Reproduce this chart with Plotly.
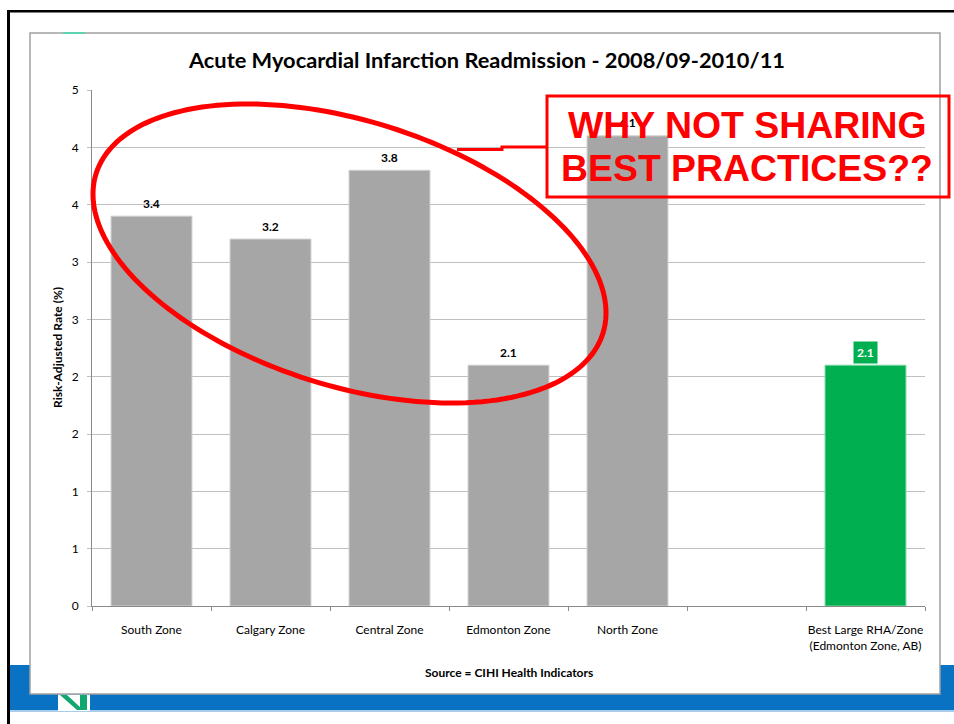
import numpy as np
import plotly.graph_objects as go

# ---------------- data ----------------
categories = ["South Zone", "Calgary Zone", "Central Zone", "Edmonton Zone",
              "North Zone", "", "Best Large RHA/Zone<br>(Edmonton Zone, AB)"]
rates = [3.4, 3.2, 3.8, 2.1, 4.1, None, 2.1]
is_best = [False, False, False, False, False, False, True]
y_tickvals = [0, 0.5, 1, 1.5, 2, 2.5, 3, 3.5, 4, 4.5]
y_ticktext = ["0", "1", "1", "2", "2", "3", "3", "4", "4", "5"]

title_text = "Acute Myocardial Infarction Readmission - 2008/09-2010/11"
ytitle_text = "Risk-Adjusted Rate (%)"
source_text = "Source = CIHI Health Indicators"
callout_lines = ["WHY NOT SHARING", "BEST PRACTICES??"]

# ---------------- layout geometry ----------------
W, H = 954, 724
ML, MR, MT, MB = 92, 29, 90, 118
PW, PH = W - ML - MR, H - MT - MB


def px(x):
    return (x - ML) / PW


def py(y):
    return (H - MB - y) / PH


GRAY = "#A6A6A6"
GREEN = "#00B050"
RED = "#FF0000"
FONT = "Lato"

x_pos = list(range(len(categories)))
bar_colors = [GREEN if b else GRAY for b in is_best]
line_colors = ["#7FD8A5" if b else "#D0D0D0" for b in is_best]

fig = go.Figure()
fig.add_trace(go.Bar(
    x=x_pos, y=rates,
    marker=dict(color=bar_colors, line=dict(color=line_colors, width=1)),
    hoverinfo="skip",
))

shapes = []


def rect(x0, y0, x1, y1, fill=None, line=None, lw=0, layer="below"):
    d = dict(type="rect", xref="paper", yref="paper",
             x0=px(x0), x1=px(x1), y0=py(y1), y1=py(y0), layer=layer,
             line=dict(width=lw, color=line if line else "rgba(0,0,0,0)"))
    if fill:
        d["fillcolor"] = fill
    shapes.append(d)


def path(points, color, lw, closed=False, fill=None, layer="above"):
    s = "M " + " L ".join(f"{px(a):.5f},{py(b):.5f}" for a, b in points)
    if closed:
        s += " Z"
    d = dict(type="path", xref="paper", yref="paper", path=s, layer=layer,
             line=dict(color=color, width=lw))
    if fill:
        d["fillcolor"] = fill
    shapes.append(d)


# slide decorations
rect(10, 665, 954, 710, fill="#0A72C2")
rect(10, 710, 954, 712, fill="#A9CCEB")
rect(7, 10, 954, 12.5, fill="#000000")
rect(7, 10, 10, 724, fill="#000000")
# chart area box
rect(30, 33, 940, 694, fill="#FFFFFF", line="#A0A0A0", lw=1.5)
# logo bits
rect(58, 694.8, 90, 711, fill="#FFFFFF")
path([(60, 695), (67, 695), (80, 707), (80, 695), (87, 695), (87, 710), (77, 710)],
     "rgba(0,0,0,0)", 0, closed=True, fill="#10A870", layer="below")
shapes.append(dict(type="line", xref="paper", yref="paper", layer="above",
                   x0=px(63), x1=px(85), y0=py(33), y1=py(33),
                   line=dict(color="#5FD3B0", width=2)))

# red ellipse
cx, cy, a, b, th = 349.5, 253.5, 265.7, 132.5, np.deg2rad(17.5)
t = np.linspace(0, 2 * np.pi, 181)
ex = cx + a * np.cos(th) * np.cos(t) - b * np.sin(th) * np.sin(t)
ey = cy + a * np.sin(th) * np.cos(t) + b * np.cos(th) * np.sin(t)
path(list(zip(ex, ey)), RED, 5, closed=True)
# connector
path([(457, 149.5), (502, 149.5), (502, 147), (547, 147)], RED, 3)
# callout box
rect(547, 96, 949, 197, line=RED, lw=3, layer="above")

annotations = []
# value labels
for xi, v, best in zip(x_pos, rates, is_best):
    if v is None:
        continue
    ann = dict(x=xi, y=v, xref="x", yref="y", text=f"<b>{v:.1f}</b>",
               showarrow=False, yshift=13, yanchor="middle",
               font=dict(family=FONT, size=12,
                         color="#FFFFFF" if best else "#000000"))
    if best:
        ann.update(bgcolor=GREEN, borderpad=3)
    annotations.append(ann)

# title
annotations.append(dict(x=px(486), y=py(60), xref="paper", yref="paper",
                        text=f"<b>{title_text}</b>", showarrow=False,
                        xanchor="center", yanchor="middle",
                        font=dict(family=FONT, size=21.8, color="#000000")))
# y title
annotations.append(dict(x=px(57), y=py(348), xref="paper", yref="paper",
                        text=f"<b>{ytitle_text}</b>", showarrow=False,
                        textangle=-90, xanchor="center", yanchor="middle",
                        font=dict(family=FONT, size=12, color="#000000")))
# source
annotations.append(dict(x=px(509), y=py(672), xref="paper", yref="paper",
                        text=f"<b>{source_text}</b>", showarrow=False,
                        xanchor="center", yanchor="middle",
                        font=dict(family=FONT, size=12, color="#000000")))
# callout text
for line_text, yc in zip(callout_lines, [125, 168]):
    annotations.append(dict(x=px(747), y=py(yc), xref="paper", yref="paper",
                            text=f"<b>{line_text}</b>", showarrow=False,
                            xanchor="center", yanchor="middle",
                            font=dict(family="Liberation Sans", size=37.4, color=RED)))

fig.update_layout(
    width=W, height=H, autosize=False,
    margin=dict(l=ML, r=MR, t=MT, b=MB, pad=0),
    paper_bgcolor="#FFFFFF", plot_bgcolor="#FFFFFF",
    showlegend=False, bargap=0.32,
    font=dict(family=FONT, size=12, color="#000000"),
    shapes=shapes, annotations=annotations,
    xaxis=dict(range=[-0.5, len(categories) - 0.5], tickvals=x_pos, ticktext=categories,
               ticks="", showgrid=False, zeroline=False,
               showline=True, linecolor="#8A8A8A", linewidth=1,
               ticklabelstandoff=13,
               tickfont=dict(family=FONT, size=12, color="#000000"),
               minor=dict(ticks="outside", ticklen=4, tick0=0.5, dtick=1,
                          tickcolor="#8A8A8A", showgrid=False)),
    yaxis=dict(range=[0, 4.5], tickvals=y_tickvals, ticktext=y_ticktext,
               ticks="outside", ticklen=4, tickcolor="#BFBFBF",
               showgrid=True, gridcolor="#BFBFBF", gridwidth=1,
               zeroline=False, showline=True, linecolor="#8A8A8A", linewidth=1,
               ticklabelstandoff=6,
               tickfont=dict(family=FONT, size=12, color="#000000")),
)

fig.write_html("out.html",
               config={"displayModeBar": False},
               post_script="document.body.style.margin='0';document.body.style.overflow='hidden';")
